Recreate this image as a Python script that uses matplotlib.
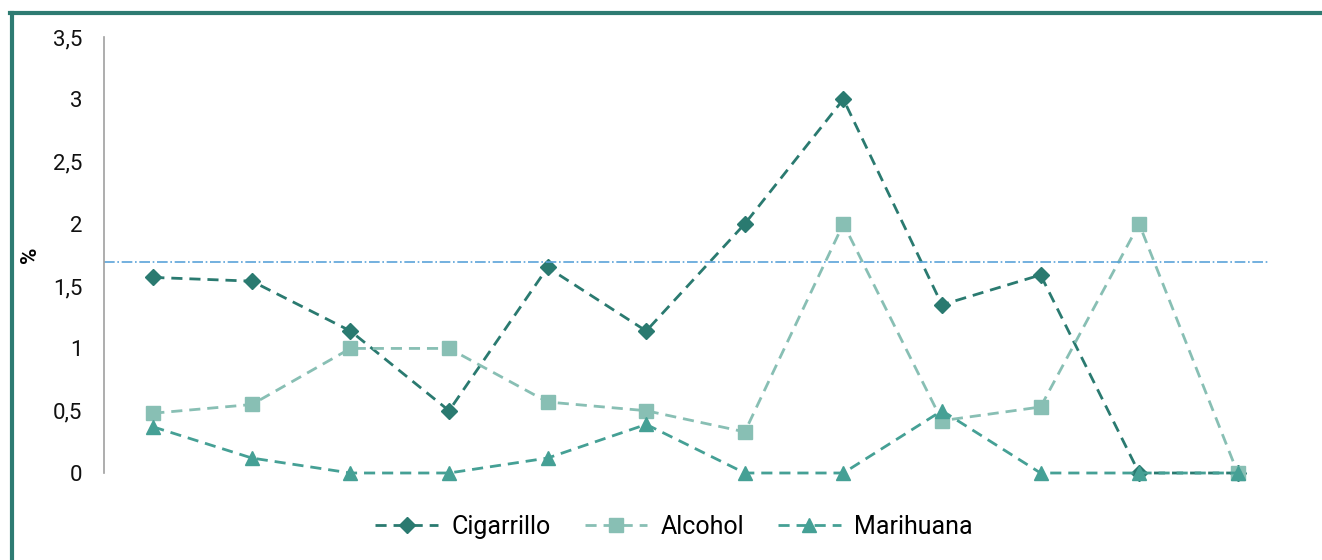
import matplotlib.pyplot as plt
from matplotlib.lines import Line2D
from matplotlib.ticker import FuncFormatter

# data
categories = list(range(12))
cigarrillo = [1.57, 1.54, 1.14, 0.50, 1.65, 1.14, 2.00, 3.00, 1.35, 1.59, 0.00, 0.00]
alcohol = [0.48, 0.55, 1.00, 1.00, 0.57, 0.50, 0.33, 2.00, 0.42, 0.53, 2.00, 0.00]
marihuana = [0.37, 0.12, 0.00, 0.00, 0.12, 0.39, 0.00, 0.00, 0.50, 0.00, 0.00, 0.00]
reference_level = 1.69
y_ticks = [0, 0.5, 1, 1.5, 2, 2.5, 3, 3.5]

plt.rcParams['font.family'] = ['Roboto', 'DejaVu Sans']

fig = plt.figure(figsize=(13.22, 5.6), dpi=100)
ax = fig.add_axes([104 / 1322, 1 - 473 / 560, (1287 - 104) / 1322, (473 - 37) / 560])

dash = (4, 2.5)
ax.plot(categories, cigarrillo, ls='--', dashes=dash, lw=2, color='#2A7A70', marker='D', ms=8,
        label='Cigarrillo', clip_on=False)
ax.plot(categories, alcohol, ls='--', dashes=dash, lw=2, color='#88BFB4', marker='s', ms=10,
        label='Alcohol', clip_on=False)
ax.plot(categories, marihuana, ls='--', dashes=dash, lw=2, color='#45A095', marker='^', ms=10,
        label='Marihuana', clip_on=False)
ax.axhline(reference_level, xmin=0, xmax=0.986, ls='-.', lw=1.2, color='#5BA3D9')

ax.set_xlim(-0.5, 11.5)
ax.set_ylim(0, 3.5)
ax.set_yticks(y_ticks)
ax.yaxis.set_major_formatter(FuncFormatter(lambda v, p: ('%g' % v).replace('.', ',')))
ax.set_xticks([])
ax.tick_params(axis='y', length=0, pad=15.5, labelsize=16, labelcolor='#111111')
for s in ['top', 'right', 'bottom']:
    ax.spines[s].set_visible(False)
ax.spines['left'].set_color('#A0A0A0')
ax.spines['left'].set_linewidth(1.2)

fig.text(30 / 1322, 1 - 255 / 560, '%', rotation=90, fontsize=16, fontweight='bold',
         ha='center', va='center')

ax.legend(loc='center', bbox_to_anchor=(0.482, (473 - 527) / (473 - 37)), ncol=3, frameon=False,
          fontsize=18, handlelength=2.5, handletextpad=0.55, columnspacing=1.35)

# frame lines (top and left)
fig.add_artist(Line2D([10 / 1322, 1], [1 - 12.5 / 560, 1 - 12.5 / 560], color='#2E7B72', lw=3))
fig.add_artist(Line2D([11.5 / 1322, 11.5 / 1322], [0, 1 - 12.5 / 560], color='#2E7B72', lw=3))

fig.savefig('out.png', dpi=100)
